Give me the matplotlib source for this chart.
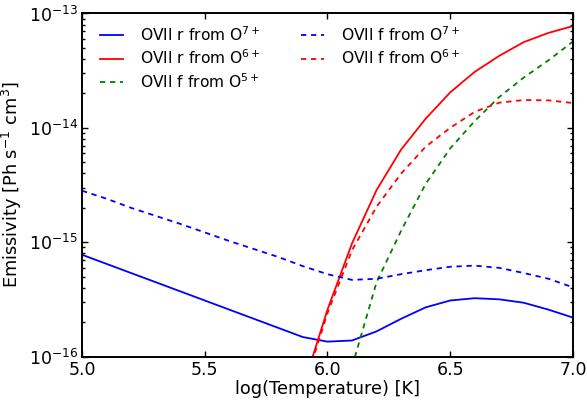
import numpy as np
import matplotlib
matplotlib.use("Agg")
import matplotlib.pyplot as plt

# log10 temperature grid [K]
logT = [5.0, 5.1, 5.2, 5.3, 5.4, 5.5, 5.6, 5.7, 5.8, 5.9,
        6.0, 6.1, 6.2, 6.3, 6.4, 6.5, 6.6, 6.7, 6.8, 6.9, 7.0]

# log10 emissivities [Ph s^-1 cm^3]
r_from_O7 = [-15.11, -15.19, -15.27, -15.35, -15.43, -15.51, -15.59, -15.67, -15.75, -15.83,
             -15.87, -15.86, -15.78, -15.67, -15.57, -15.51, -15.49, -15.50, -15.53, -15.59, -15.66]
f_from_O7 = [-14.55, -14.62, -14.70, -14.77, -14.84, -14.915, -14.99, -15.06, -15.13, -15.21,
             -15.28, -15.33, -15.32, -15.28, -15.245, -15.215, -15.205, -15.225, -15.27, -15.32, -15.395]

logT_O6 = [5.9, 6.0, 6.1, 6.2, 6.3, 6.4, 6.5, 6.6, 6.7, 6.8, 6.9, 7.0]
r_from_O6 = [-16.27, -15.59, -15.01, -14.544, -14.19, -13.92, -13.69, -13.51, -13.37, -13.25, -13.17, -13.11]
f_from_O6 = [-16.30, -15.62, -15.07, -14.69, -14.40, -14.165, -14.00, -13.86, -13.78, -13.757, -13.76, -13.783]

logT_O5 = [6.1, 6.2, 6.3, 6.4, 6.5, 6.6, 6.7, 6.8, 6.9, 7.0]
f_from_O5 = [-16.09, -15.35, -14.90, -14.49, -14.18, -13.94, -13.73, -13.56, -13.41, -13.245]

plt.rcParams['font.family'] = ['DejaVu Sans']
plt.rcParams['lines.scale_dashes'] = False

fig = plt.figure(figsize=(5.87, 4.08), dpi=100)
ax = fig.add_axes([0.1397, 0.1262, 0.9761 - 0.1397, 0.967 - 0.1262])

lw = 1.3
dash = (3.8, 3.4)
ax.plot(logT, 10.0 ** np.array(r_from_O7), color='b', lw=lw, label=r'OVII r from O$^{7+}$')
ax.plot(logT_O6, 10.0 ** np.array(r_from_O6), color='r', lw=lw, label=r'OVII r from O$^{6+}$')
ax.plot(logT_O5, 10.0 ** np.array(f_from_O5), color=(0, 0.5, 0), lw=lw, dashes=dash,
        label=r'OVII f from O$^{5+}$')
ax.plot(logT, 10.0 ** np.array(f_from_O7), color='b', lw=lw, dashes=dash, label=r'OVII f from O$^{7+}$')
ax.plot(logT_O6, 10.0 ** np.array(f_from_O6), color='r', lw=lw, dashes=dash,
        label=r'OVII f from O$^{6+}$')

ax.set_yscale('log')
ax.set_xlim(5.0, 7.0)
ax.set_ylim(1e-16, 1e-13)
ax.set_xticks([5.0, 5.5, 6.0, 6.5, 7.0])
ax.set_xticklabels(['5.0', '5.5', '6.0', '6.5', '7.0'])

ax.tick_params(which='both', direction='in', top=True, right=True, labelsize=12.5, width=1.0)
ax.tick_params(which='major', length=4.5, pad=3)
ax.tick_params(which='minor', length=2.5)
for s in ax.spines.values():
    s.set_linewidth(1.4)

ax.set_xlabel('log(Temperature) [K]', fontsize=12.8, labelpad=1)
ax.set_ylabel(r'Emissivity [Ph s$^{-1}$ cm$^{3}$]', fontsize=12.8, labelpad=3)

ax.legend(loc='upper left', bbox_to_anchor=(0.0367, 0.966), ncol=2, frameon=False,
          fontsize=11.2, handlelength=1.47, handletextpad=1.1, columnspacing=2.56,
          labelspacing=0.3, borderaxespad=0.0, borderpad=0.0)

fig.savefig('out.png', dpi=100)
